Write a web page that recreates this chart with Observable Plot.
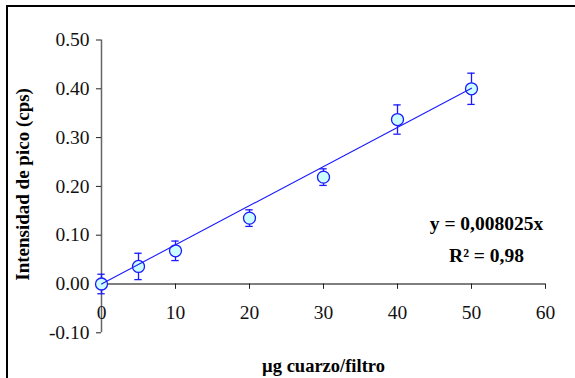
<!DOCTYPE html>
<html>
<head>
<meta charset="utf-8">
<script src="https://cdn.jsdelivr.net/npm/d3@7"></script>
<script src="https://cdn.jsdelivr.net/npm/@observablehq/plot@0.6"></script>
<style>
  html, body { margin: 0; padding: 0; background: #fff; }
  #wrap { position: relative; width: 575px; height: 378px; overflow: hidden; }
  #border { position: absolute; left: 6px; top: 5px; width: 700px; height: 500px; border-left: 2px solid #000; border-top: 2px solid #000; pointer-events: none; }
</style>
</head>
<body>
<div id="wrap"><div id="chart"></div><div id="border"></div></div>
<script>
// Data
const xValues = [0, 5, 10, 20, 30, 40, 50];
const yValues = [0.000, 0.036, 0.068, 0.135, 0.219, 0.337, 0.400];
const yErrors = [0.020, 0.027, 0.020, 0.017, 0.017, 0.030, 0.032];
const slope = 0.008025;
const rSquared = "0,98";
const fitRange = [0, 50];
const xTicks = [0, 10, 20, 30, 40, 50, 60];
const yTicks = [-0.10, 0.00, 0.10, 0.20, 0.30, 0.40, 0.50];
const xLabel = "µg cuarzo/filtro";
const yLabel = "Intensidad de pico (cps)";
const eqLines = ["y = 0,008025x", "R² = " + rSquared];

const points = xValues.map((x, i) => ({x, y: yValues[i], e: yErrors[i]}));
const fit = fitRange.map(x => ({x, y: slope * x}));

const serif = "'Liberation Serif', 'Times New Roman', serif";
const blue = "#1a1aff";

const chart = Plot.plot({
  width: 575,
  height: 378,
  marginLeft: 101,
  marginRight: 30,
  marginTop: 39.5,
  marginBottom: 45.7,
  style: {fontFamily: serif, background: "#fff"},
  x: {domain: [0, 60], axis: null},
  y: {domain: [-0.1, 0.5], axis: null},
  marks: [
    // y axis line
    Plot.ruleX([0], {y1: -0.1, y2: 0.5, stroke: "#666", strokeWidth: 1.5}),
    // x axis line at y=0
    Plot.ruleY([0], {x1: 0, x2: 60, stroke: "#555", strokeWidth: 1.5}),
    // y ticks
    Plot.ruleY(yTicks, {y: d => d, x1: 0, x2: -0.68, stroke: "#222", strokeWidth: 1}),
    // x ticks
    Plot.ruleX(xTicks, {x: d => d, y1: 0, y2: -0.011, stroke: "#222", strokeWidth: 1}),
    // y tick labels
    Plot.text(yTicks, {x: 0, y: d => d, text: d => d.toFixed(2), textAnchor: "end", dx: -12, fontSize: 19.5, fontFamily: serif, fill: "#111"}),
    // x tick labels
    Plot.text(xTicks, {x: d => d, y: 0, text: d => String(d), dy: 29, fontSize: 19.5, fontFamily: serif, fill: "#111"}),
    // error bars
    Plot.ruleX(points, {x: "x", y1: d => d.y - d.e, y2: d => d.y + d.e, stroke: blue, strokeWidth: 1.3}),
    Plot.ruleY(points, {y: d => d.y + d.e, x1: d => d.x - 0.5, x2: d => d.x + 0.5, stroke: blue, strokeWidth: 1.3}),
    Plot.ruleY(points, {y: d => d.y - d.e, x1: d => d.x - 0.5, x2: d => d.x + 0.5, stroke: blue, strokeWidth: 1.3}),
    // points
    Plot.dot(points, {x: "x", y: "y", r: 6, fill: "#ccffff", stroke: blue, strokeWidth: 1.3}),
    // fit line
    Plot.line(fit, {x: "x", y: "y", stroke: blue, strokeWidth: 1.1}),
    // equation
    Plot.text([eqLines[0]], {frameAnchor: "right", dx: -59, dy: 37, text: d => d, fontSize: 19.5, fontFamily: serif, fontWeight: "bold", fill: "#000", textAnchor: "middle"}),
    Plot.text([eqLines[1]], {frameAnchor: "right", dx: -59, dy: 69, text: d => d, fontSize: 19.5, fontFamily: serif, fontWeight: "bold", fill: "#000", textAnchor: "middle"}),
    // axis labels
    Plot.text([yLabel], {frameAnchor: "left", textAnchor: "middle", dx: -79, dy: -2, rotate: -90, text: d => d, fontSize: 19, fontFamily: serif, fontWeight: "bold", fill: "#000"}),
    Plot.text([xLabel], {frameAnchor: "bottom", dy: 33, text: d => d, fontSize: 18.5, fontFamily: serif, fontWeight: "bold", fill: "#000", lineAnchor: "middle"})
  ]
});
document.getElementById("chart").appendChild(chart);
</script>
</body>
</html>
